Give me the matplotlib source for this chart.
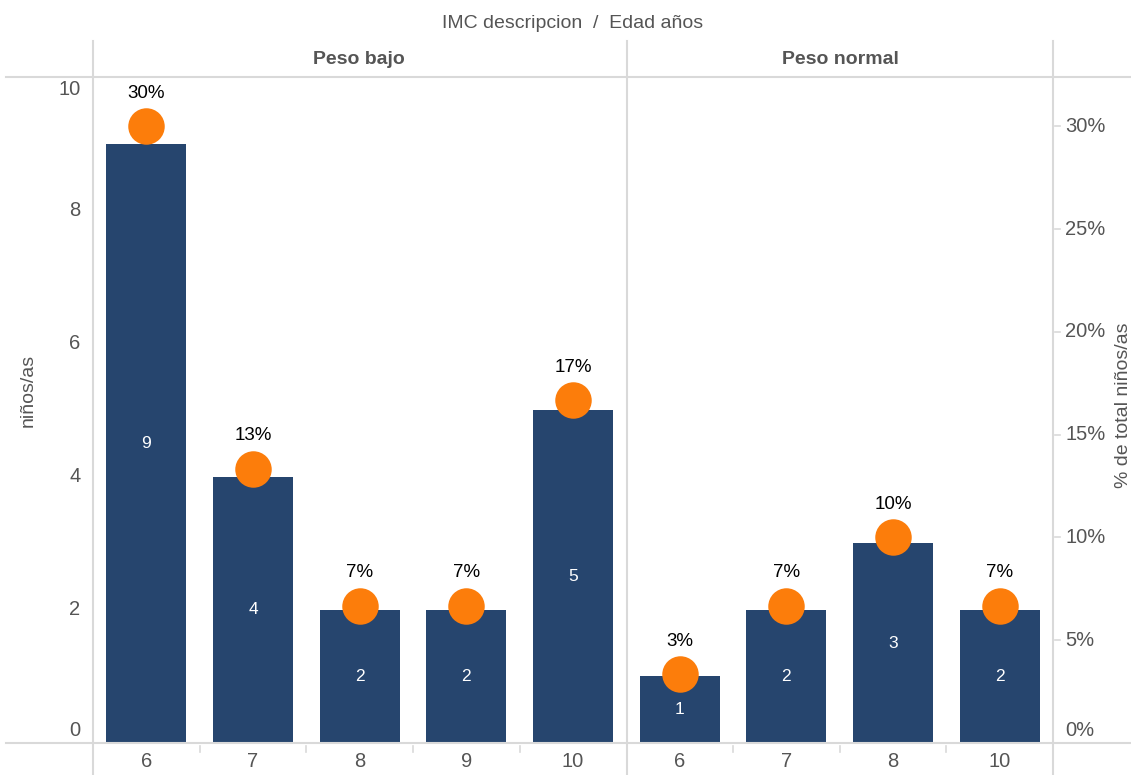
import numpy as np
import matplotlib.pyplot as plt
from matplotlib.lines import Line2D

plt.rcParams['font.family'] = ['Liberation Sans', 'DejaVu Sans']

# counts per age, split by BMI group
groups = ["Peso bajo", "Peso normal"]
edades_bajo = ["6", "7", "8", "9", "10"]
edades_normal = ["6", "7", "8", "10"]
ninos_bajo = [9, 4, 2, 2, 5]
ninos_normal = [1, 2, 3, 2]

labels = edades_bajo + edades_normal
counts = np.array(ninos_bajo + ninos_normal)
pct = counts / counts.sum()
x = np.arange(len(counts))

bar_color = "#26456e"
dot_color = "#fc7d0b"
grid_gray = "#d9d9d9"
text_gray = "#555555"

W, H = 1131, 775
fig = plt.figure(figsize=(W / 100, H / 100), dpi=100)
ax = fig.add_axes([93 / W, 1 - 743 / H, (1053 - 93) / W, (743 - 77) / H])
ax2 = ax.twinx()

ax.bar(x, counts, width=0.75, color=bar_color, zorder=2)
ax.set_xlim(-0.5, len(counts) - 0.5)
ax.set_ylim(0, 10)
ax2.set_ylim(0, 0.324)
ax2.scatter(x, pct, s=690, color=dot_color, zorder=3, linewidths=0)

for xi, c, p in zip(x, counts, pct):
    ax.text(xi, c / 2, str(c), ha="center", va="center", color="white", fontsize=12.5)
    ax2.annotate(f"{p * 100:.0f}%", (xi, p), xytext=(0, 24), textcoords="offset points",
                 ha="center", va="center", fontsize=13.5, color="black")

for a in (ax, ax2):
    for s in a.spines.values():
        s.set_visible(False)
    a.set_xticks([])
    a.set_yticks([])

# left axis labels (end labels pulled inside the plot area)
for v in range(0, 11, 2):
    off = 0
    if v == 0:
        off = 9
    elif v == 10:
        off = -9
    ax.annotate(str(v), (0, v), xycoords=("axes fraction", "data"), xytext=(-9, off),
                textcoords="offset points", ha="right", va="center", fontsize=14.5, color=text_gray)

# right axis labels with short ticks
for v in [0, 0.05, 0.10, 0.15, 0.20, 0.25, 0.30]:
    off = 9 if v == 0 else 0
    ax2.annotate(f"{v * 100:.0f}%", (1, v), xycoords=("axes fraction", "data"), xytext=(9, off),
                 textcoords="offset points", ha="left", va="center", fontsize=14.5, color=text_gray)
    if v > 0:
        ax2.plot([1.002, 1.007], [v, v], transform=ax2.get_yaxis_transform(), color=grid_gray,
                 lw=1.2, clip_on=False)

# x tick labels and small separators between ages
for xi, lab in zip(x, labels):
    ax.annotate(lab, (xi, 0), xycoords=("data", "axes fraction"), xytext=(0, -13),
                textcoords="offset points", ha="center", va="center", fontsize=14.5, color=text_gray)
for b in [0.5, 1.5, 2.5, 3.5, 5.5, 6.5, 7.5]:
    ax.plot([b, b], [-0.004, -0.014], transform=ax.get_xaxis_transform(), color=grid_gray,
            lw=1.2, clip_on=False)

# panel frame lines
def fig_line(xs, ys):
    fig.add_artist(Line2D([v / W for v in xs], [1 - v / H for v in ys], color=grid_gray, lw=1.5))

fig_line([6, W], [77, 77])
fig_line([6, W], [743, 743])
for xv in [93, 627, 1053]:
    fig_line([xv, xv], [41, H])

# group headers
fig.text(359 / W, 1 - 60 / H, groups[0], ha="center", va="center", fontsize=14,
         fontweight="bold", color=text_gray)
fig.text(840 / W, 1 - 60 / H, groups[1], ha="center", va="center", fontsize=14,
         fontweight="bold", color=text_gray)
fig.text(573 / W, 1 - 24 / H, "IMC descripcion  /  Edad años", ha="center", va="center",
         fontsize=14, color=text_gray)

fig.text(28 / W, 1 - 390 / H, "niños/as", rotation=90, ha="center", va="center",
         fontsize=14, color=text_gray)
fig.text(1123 / W, 1 - 405 / H, "% de total niños/as", rotation=90, ha="center", va="center",
         fontsize=14, color=text_gray)

fig.savefig("out.png", dpi=100)
